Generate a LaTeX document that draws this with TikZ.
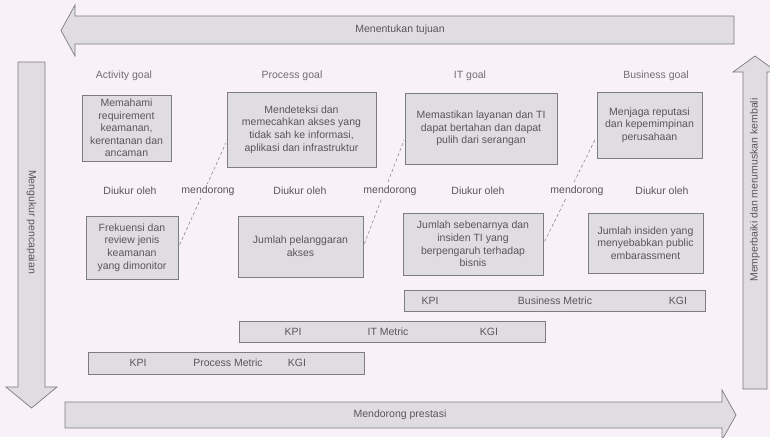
\documentclass[tikz,border=0pt]{standalone}
\usepackage{fontspec}
\setmainfont{Liberation Sans}
\usetikzlibrary{calc}

\definecolor{paper}{RGB}{248,241,247}
\definecolor{panel}{RGB}{224,221,226}
\definecolor{edge}{RGB}{125,124,128}
\definecolor{ink}{RGB}{88,86,92}
\definecolor{softink}{RGB}{112,110,116}

\newcommand{\txt}{\fontsize{10.5}{12.6}\selectfont}

\tikzset{
  goalbox/.style={draw=edge, fill=panel, text=ink, align=center, inner sep=0pt,
                  font=\txt, line width=0.7pt},
  metricbar/.style={draw=edge, fill=panel, inner sep=0pt, line width=0.7pt},
  bigarrow/.style={draw=edge, fill=panel, line width=0.7pt},
  lbl/.style={text=ink, font=\txt, inner sep=1pt},
  head/.style={text=softink, font=\txt, inner sep=1pt},
  cut/.style={lbl, fill=paper, inner sep=2pt},
  link/.style={draw=edge, dashed, line width=0.5pt, dash pattern=on 3pt off 2.5pt}
}

\begin{document}
\begin{tikzpicture}[x=1pt, y=-1pt]
  % page
  \fill[paper] (0,0) rectangle (770,437);
  \useasboundingbox (0,0) rectangle (770,437);
  \clip (0,0) rectangle (770,437);

  % ---- the four big block arrows around the frame ----
  % top: pointing left
  \draw[bigarrow] (734,16) -- (75,16) -- (75,5) -- (61,30.5) -- (75,56) -- (75,44)
                  -- (734,44) -- cycle;
  \node[lbl] (aTop) at (400,29.5) {Menentukan tujuan};

  % left: pointing down
  \draw[bigarrow] (18,62) -- (45,62) -- (45,387) -- (57,387) -- (31.5,408)
                  -- (6,387) -- (18,387) -- cycle;
  \node[lbl, rotate=-90] (aLeft) at (31.5,222) {Mengukur pencapaian};

  % bottom: pointing right
  \draw[bigarrow] (65,402) -- (722,402) -- (722,390) -- (736,415) -- (722,440)
                  -- (722,428) -- (65,428) -- cycle;
  \node[lbl] (aBottom) at (400,415) {Mendorong prestasi};

  % right: pointing up
  \draw[bigarrow] (743,389) -- (743,72) -- (733,72) -- (755,56) -- (777,72)
                  -- (767,72) -- (767,389) -- cycle;
  \node[lbl, rotate=90] (aRight) at (755,190) {Memperbaiki dan merumuskan kembali};

  % ---- column headings ----
  \node[head] (hA) at (124,76) {Activity goal};
  \node[head] (hP) at (292,76) {Process goal};
  \node[head] (hI) at (470,76) {IT goal};
  \node[head] (hB) at (656,76) {Business goal};

  % ---- goals ----
  \node[goalbox, minimum width=89pt, minimum height=66pt] (g1) at (126.5,128)
    {Memahami\\requirement\\keamanan,\\kerentanan dan\\ancaman};
  \node[goalbox, minimum width=149pt, minimum height=75pt] (g2) at (301.5,129.5)
    {Mendeteksi dan\\memecahkan akses yang\\tidak sah ke informasi,\\aplikasi dan infrastruktur};
  \node[goalbox, minimum width=152pt, minimum height=71pt] (g3) at (481,128.5)
    {Memastikan layanan dan TI\\dapat bertahan dan dapat\\pulih dari serangan};
  \node[goalbox, minimum width=105pt, minimum height=66pt] (g4) at (649.5,125)
    {Menjaga reputasi\\dan kepemimpinan\\perusahaan};

  % ---- measures ----
  \node[goalbox, minimum width=92pt, minimum height=63pt] (m1) at (132,247.5)
    {Frekuensi dan\\review jenis\\keamanan\\yang dimonitor};
  \node[goalbox, minimum width=125pt, minimum height=61pt] (m2) at (300.5,246.5)
    {Jumlah pelanggaran\\akses};
  \node[goalbox, minimum width=140pt, minimum height=62pt] (m3) at (473,244)
    {Jumlah sebenarnya dan\\insiden TI yang\\berpengaruh terhadap\\bisnis};
  \node[goalbox, minimum width=115pt, minimum height=60pt] (m4) at (645.5,243)
    {Jumlah insiden yang\\menyebabkan public\\embarassment};

  % ---- links: each measure drives the next goal ----
  \draw[link, shorten <=3pt, shorten >=2pt] (m1.east) -- ($(g2.south west)+(0,-26)$);
  \draw[link, shorten <=3pt, shorten >=2pt] (m2.east) -- ($(g3.south west)+(0,-26)$);
  \draw[link, shorten <=3pt, shorten >=2pt] (m3.east) -- ($(g4.south west)+(0,-22)$);

  % ---- row of labels between goals and measures ----
  \node[lbl] (d1) at (130,191) {Diukur oleh};
  \node[cut] (p1) at (208,191) {mendorong};
  \node[lbl] (d2) at (300,191) {Diukur oleh};
  \node[cut] (p2) at (390,191) {mendorong};
  \node[lbl] (d3) at (478,191) {Diukur oleh};
  \node[cut] (p3) at (577,191) {mendorong};
  \node[lbl] (d4) at (662,191) {Diukur oleh};

  % ---- metric bars ----
  \node[metricbar, minimum width=301pt, minimum height=21pt] (bm) at (554.5,300.5) {};
  \node[lbl] (bmK) at (430,300.5) {KPI};
  \node[lbl] (bmN) at (555,300.5) {Business Metric};
  \node[lbl] (bmG) at (678,300.5) {KGI};

  \node[metricbar, minimum width=306pt, minimum height=21pt] (im) at (392,331.5) {};
  \node[lbl] (imK) at (293,331.5) {KPI};
  \node[lbl] (imN) at (388,331.5) {IT Metric};
  \node[lbl] (imG) at (489,331.5) {KGI};

  \node[metricbar, minimum width=276pt, minimum height=22pt] (pm) at (226,363) {};
  \node[lbl] (pmK) at (138,363) {KPI};
  \node[lbl] (pmN) at (228,363) {Process Metric};
  \node[lbl] (pmG) at (297,363) {KGI};
\end{tikzpicture}
\end{document}
